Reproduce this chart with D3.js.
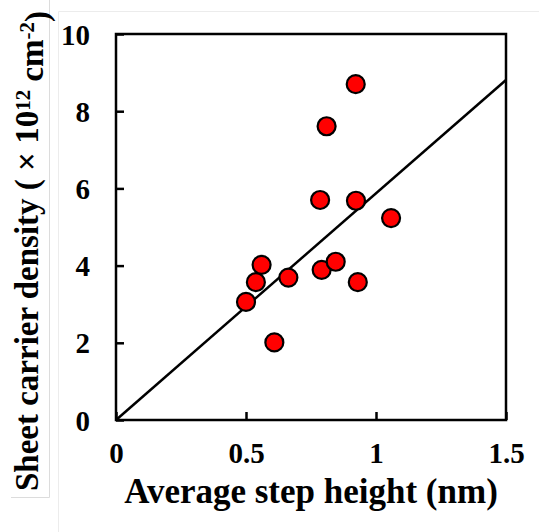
<!DOCTYPE html>
<html>
<head>
<meta charset="utf-8">
<script src="https://cdn.jsdelivr.net/npm/d3@7"></script>
<style>
  html, body { margin: 0; padding: 0; background: #fff; }
  svg { display: block; }
  text { font-family: "Times New Roman", "Liberation Serif", serif; font-weight: bold; fill: #000; }
</style>
</head>
<body>
<svg id="chart" width="539" height="532"></svg>
<script>
// Measured samples: average step height (nm) vs sheet carrier density (x10^12 cm^-2)
const stepHeight     = [0.500, 0.538, 0.560, 0.609, 0.663, 0.785, 0.791, 0.810, 0.845, 0.922, 0.923, 0.930, 1.058];
const carrierDensity = [3.06, 3.57, 4.02, 2.01, 3.69, 5.70, 3.89, 7.61, 4.10, 8.70, 5.68, 3.57, 5.23];

// Proportional fit through the origin
const fitX = [0, 1.5];
const fitY = [0, 8.81];

const xTicks = [0, 0.5, 1, 1.5];
const xTickLabels = ["0", "0.5", "1", "1.5"];
const yTicks = [0, 2, 4, 6, 8, 10];
const yTickLabels = ["0", "2", "4", "6", "8", "10"];

const svg = d3.select("#chart");
const plot = { left: 116, right: 506, top: 34, bottom: 420 };

const x = d3.scaleLinear().domain([0, 1.5]).range([plot.left, plot.right]);
const y = d3.scaleLinear().domain([0, 10]).range([plot.bottom, plot.top]);

// faint page edges around the figure
const faint = svg.append("g").attr("fill", "none").attr("stroke-width", 1);
faint.append("path").attr("stroke", "#dcdcdc").attr("d", "M49.5,0 V497.5 H11");
faint.append("path").attr("stroke", "#ececec").attr("d", "M58.5,532 V11.5 H539");

// fit line
const line = d3.line().x((d, i) => x(fitX[i])).y((d, i) => y(fitY[i]));
svg.append("path")
  .datum(fitX)
  .attr("d", line)
  .attr("fill", "none")
  .attr("stroke", "#000")
  .attr("stroke-width", 2.5);

// axes with inward ticks
const xAxis = d3.axisBottom(x).tickValues(xTicks).tickSizeInner(-8).tickSizeOuter(0)
  .tickFormat((d, i) => xTickLabels[i]).tickPadding(0);
const yAxis = d3.axisLeft(y).tickValues(yTicks).tickSizeInner(-8).tickSizeOuter(0)
  .tickFormat((d, i) => yTickLabels[i]).tickPadding(0);

const gx = svg.append("g").attr("transform", `translate(0,${plot.bottom})`).call(xAxis);
gx.select(".domain").remove();
gx.selectAll(".tick line").attr("stroke", "#000").attr("stroke-width", 2.5);
gx.selectAll(".tick text")
  .attr("y", 43).attr("dy", null)
  .style("font-size", "29px")
  .style("font-family", "'Times New Roman', 'Liberation Serif', serif")
  .style("font-weight", "bold");

const gy = svg.append("g").attr("transform", `translate(${plot.left},0)`).call(yAxis);
gy.select(".domain").remove();
gy.selectAll(".tick line").attr("stroke", "#000").attr("stroke-width", 2.5);
gy.selectAll(".tick text")
  .attr("x", -26).attr("dy", "0.35em")
  .style("font-size", "29px")
  .style("font-family", "'Times New Roman', 'Liberation Serif', serif")
  .style("font-weight", "bold");

// plot frame
svg.append("rect")
  .attr("x", plot.left).attr("y", plot.top)
  .attr("width", plot.right - plot.left).attr("height", plot.bottom - plot.top)
  .attr("fill", "none").attr("stroke", "#000").attr("stroke-width", 2.5);

// data points
svg.append("g").selectAll("circle")
  .data(stepHeight)
  .join("circle")
  .attr("cx", d => x(d))
  .attr("cy", (d, i) => y(carrierDensity[i]))
  .attr("r", 9)
  .attr("fill", "#ff0000")
  .attr("stroke", "#000")
  .attr("stroke-width", 2.2);

// axis titles
svg.append("text")
  .attr("x", (plot.left + plot.right) / 2)
  .attr("y", 503)
  .attr("text-anchor", "middle")
  .style("font-size", "35px")
  .text("Average step height (nm)");

const yt = svg.append("text")
  .attr("transform", "translate(38,251) rotate(-90)")
  .attr("text-anchor", "middle")
  .style("font-size", "33px");
yt.append("tspan").text("Sheet carrier density ( × 10");
yt.append("tspan").attr("dy", "-0.4em").style("font-size", "21px").text("12");
yt.append("tspan").attr("dy", "0.4em").text(" cm");
yt.append("tspan").attr("dy", "-0.4em").style("font-size", "21px").text("-2");
yt.append("tspan").attr("dy", "0.4em").text(")");
</script>
</body>
</html>
